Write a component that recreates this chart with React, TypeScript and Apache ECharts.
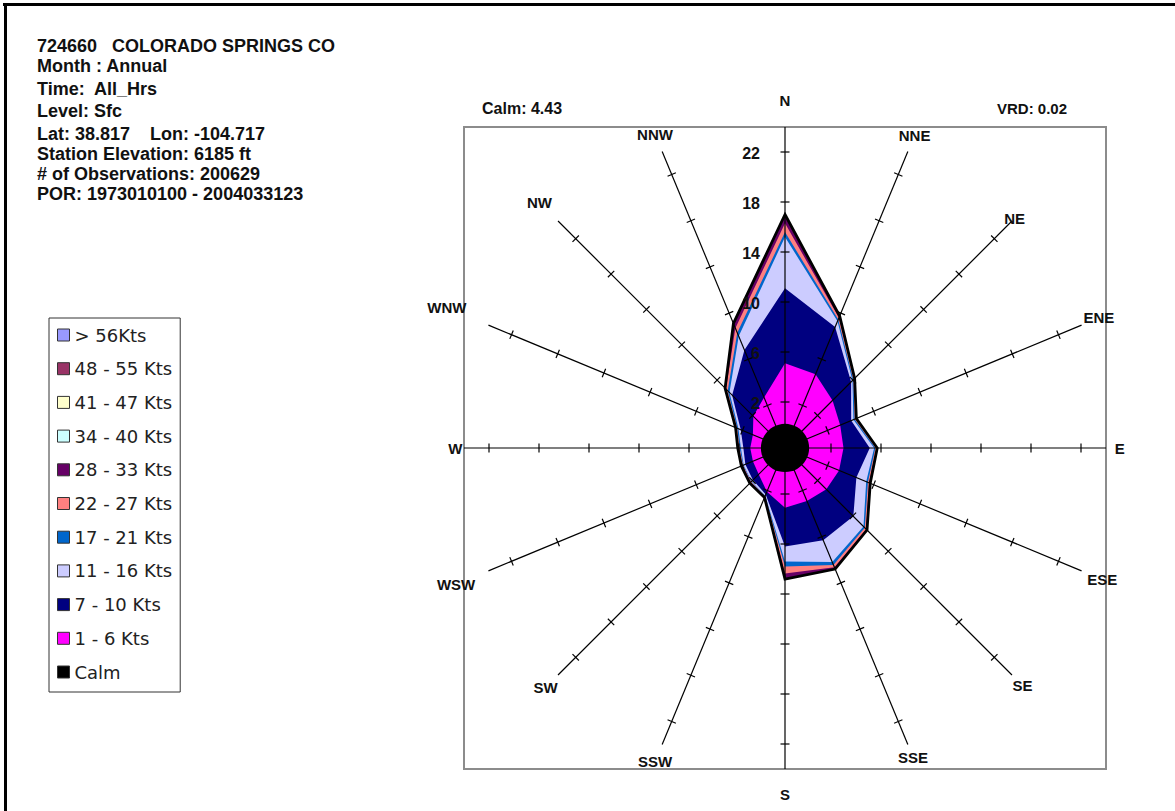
import React, { useEffect, useRef } from 'react';
import * as echarts from 'echarts';

// ---------- data ----------
const DIRECTIONS = ['N', 'NNE', 'NE', 'ENE', 'E', 'ESE', 'SE', 'SSE', 'S', 'SSW', 'SW', 'WSW', 'W', 'WNW', 'NW', 'NNW'];
const DIRECTION_ANGLES = [0, 22.5, 45, 67.5, 90, 112.5, 135, 157.5, 180, 202.5, 225, 247.5, 270, 292.5, 315, 337.5];
const RING_TICKS = [2, 6, 10, 14, 18, 22];
const RADIUS_MAX = 24;

const SPEED_CLASSES = ['1 - 6 Kts', '7 - 10 Kts', '11 - 16 Kts', '17 - 21 Kts', '22 - 27 Kts', '28 - 33 Kts', '34 - 40 Kts', '41 - 47 Kts', '48 - 55 Kts', '> 56Kts'];

// percent frequency per direction (N .. NNW) for each speed class
const PCT_1_6 = [5.1, 4.7, 3.7, 3.1, 3.0, 3.0, 3.0, 2.9, 3.1, 2.1, 1.3, 1.1, 1.1, 1.1, 1.9, 2.7];
const PCT_7_10 = [6.0, 4.1, 2.1, 0.95, 2.1, 1.5, 3.05, 3.4, 3.1, 0.25, 0.65, 0.65, 0.55, 1.05, 2.4, 4.1];
const PCT_11_16 = [4.1, 0.5, 0.15, 0.2, 0.35, 0.85, 1.15, 1.9, 1.2, 0.1, 0.15, 0.15, 0.2, 0.2, 0.3, 1.2];
const PCT_17_21 = [0.4, 0.15, 0.1, 0.1, 0.1, 0.15, 0.15, 0.25, 0.4, 0.05, 0.05, 0.05, 0.1, 0.1, 0.2, 0.3];
const PCT_22_27 = [0.7, 0.15, 0.1, 0.1, 0.1, 0.1, 0.15, 0.2, 0.55, 0.05, 0.05, 0.05, 0.05, 0.1, 0.2, 0.4];
const PCT_28_33 = [0.7, 0.15, 0.05, 0.05, 0.05, 0.1, 0.1, 0.15, 0.45, 0.05, 0.1, 0.1, 0.1, 0.05, 0.1, 0.4];
const PCT_34_40 = [0, 0, 0, 0, 0, 0, 0, 0, 0, 0, 0, 0, 0, 0, 0, 0];
const PCT_41_47 = [0, 0, 0, 0, 0, 0, 0, 0, 0, 0, 0, 0, 0, 0, 0, 0];
const PCT_48_55 = [0, 0, 0, 0, 0, 0, 0, 0, 0, 0, 0, 0, 0, 0, 0, 0];
const PCT_56_UP = [0, 0, 0, 0, 0, 0, 0, 0, 0, 0, 0, 0, 0, 0, 0, 0];

const CALM_PCT = 4.43;
const VRD = 0.02;

const STATION_LINES = [
  '724660   COLORADO SPRINGS CO',
  'Month : Annual',
  'Time:  All_Hrs',
  'Level: Sfc',
  'Lat: 38.817    Lon: -104.717',
  'Station Elevation: 6185 ft',
  '# of Observations: 200629',
  'POR: 1973010100 - 2004033123',
];

// ---------- styles ----------
const CLASS_COLORS = ['#ff00ff', '#000080', '#ccccff', '#0066cc', '#ff8080', '#660066', '#ccffff', '#ffffcc', '#993366', '#9999ff'];
const STATION_LINE_Y = [46, 66, 89, 111, 134, 154, 174, 194];
const LABEL_RADII = [26.1, 25.4, 24.3, 25.5, 25.1, 25.8, 25.2, 25.1, 26.0, 25.5, 25.4, 26.8, 24.7, 27.6, 26.1, 25.5];

const CLASS_VALUES = [PCT_1_6, PCT_7_10, PCT_11_16, PCT_17_21, PCT_22_27, PCT_28_33, PCT_34_40, PCT_41_47, PCT_48_55, PCT_56_UP];

function cumulativeLayers(): number[][] {
  let acc = DIRECTIONS.map(() => 0);
  return CLASS_VALUES.map((arr) => {
    acc = acc.map((v, i) => v + arr[i]);
    return acc.slice();
  });
}

export default function App() {
  const ref = useRef<HTMLDivElement>(null);

  useEffect(() => {
    document.body.style.margin = '0';
    if (!ref.current) return;
    const chart = echarts.init(ref.current, null, { renderer: 'svg' });
    const cum = cumulativeLayers();
    const total = cum[cum.length - 1];

    const layerSeries = SPEED_CLASSES.map((name, k) => ({
      type: 'custom',
      name,
      coordinateSystem: 'polar',
      z: 20 - k,
      clip: false,
      silent: true,
      itemStyle: { color: CLASS_COLORS[k] },
      data: [[0, 0]],
      renderItem: (params: any, api: any) => {
        const pts = DIRECTION_ANGLES.map((a, i) => api.coord([cum[k][i], a]));
        return {
          type: 'polygon',
          shape: { points: pts },
          style: { fill: CLASS_COLORS[k], stroke: null },
        };
      },
    }));

    const outlineSeries = {
      type: 'custom',
      name: 'outline',
      coordinateSystem: 'polar',
      z: 21,
      clip: false,
      silent: true,
      data: [[0, 0]],
      renderItem: (params: any, api: any) => {
        const pts = DIRECTION_ANGLES.map((a, i) => api.coord([total[i], a]));
        return {
          type: 'polygon',
          shape: { points: pts },
          style: { fill: null, stroke: '#000', lineWidth: 2.8, lineJoin: 'miter' },
        };
      },
    };

    const axesSeries = {
      type: 'custom',
      name: 'axes',
      coordinateSystem: 'polar',
      z: 22,
      clip: false,
      silent: true,
      data: [[0, 0]],
      renderItem: (params: any, api: any) => {
        const cs = params.coordSys;
        const cx = cs.cx, cy = cs.cy;
        const children: any[] = [];
        DIRECTION_ANGLES.forEach((a, i) => {
          const pEnd = api.coord([RADIUS_MAX, a]);
          const p0 = api.coord([0, a]);
          children.push({
            type: 'line',
            shape: { x1: cx, y1: cy, x2: pEnd[0], y2: pEnd[1] },
            style: { stroke: '#000', lineWidth: 1.2 },
          });
          const dx = pEnd[0] - cx, dy = pEnd[1] - cy;
          const len = Math.sqrt(dx * dx + dy * dy);
          const ux = dx / len, uy = dy / len;
          RING_TICKS.forEach((t) => {
            const p = api.coord([t, a]);
            children.push({
              type: 'line',
              shape: { x1: p[0] - uy * 4.5, y1: p[1] + ux * 4.5, x2: p[0] + uy * 4.5, y2: p[1] - ux * 4.5 },
              style: { stroke: '#000', lineWidth: 1.2 },
            });
          });
          const f = LABEL_RADII[i] / RADIUS_MAX;
          children.push({
            type: 'text',
            x: p0[0] + (pEnd[0] - p0[0]) * f,
            y: p0[1] + (pEnd[1] - p0[1]) * f,
            style: {
              text: DIRECTIONS[i],
              fill: '#111',
              fontSize: 15,
              fontWeight: 'bold',
              fontFamily: 'Liberation Sans',
              align: 'center',
              verticalAlign: 'middle',
            },
          });
        });
        return { type: 'group', children };
      },
    };

    const calmSeries = {
      type: 'custom',
      name: 'Calm',
      coordinateSystem: 'polar',
      z: 23,
      clip: false,
      silent: true,
      itemStyle: { color: '#000' },
      data: [[0, 0]],
      renderItem: (params: any, api: any) => {
        const cs = params.coordSys;
        const p = api.coord([0.25, 0]);
        const r = Math.sqrt((p[0] - cs.cx) ** 2 + (p[1] - cs.cy) ** 2);
        return {
          type: 'circle',
          shape: { cx: cs.cx, cy: cs.cy, r },
          style: { fill: '#000' },
        };
      },
    };

    const ringLabelSeries = {
      type: 'custom',
      name: 'ringLabels',
      coordinateSystem: 'polar',
      z: 24,
      clip: false,
      silent: true,
      data: [[0, 0]],
      renderItem: (params: any, api: any) => {
        const children = RING_TICKS.map((t) => {
          const p = api.coord([t, 0]);
          return {
            type: 'text',
            x: p[0] - 25,
            y: p[1] + 1,
            style: {
              text: String(t),
              fill: '#111',
              fontSize: 16,
              fontWeight: 'bold',
              fontFamily: 'Liberation Sans',
              align: 'right',
              verticalAlign: 'middle',
            },
          };
        });
        return { type: 'group', children };
      },
    };

    const legendNames = [...SPEED_CLASSES].reverse().concat(['Calm']);

    const graphics: any[] = [
      { type: 'rect', shape: { x: 3, y: 3, width: 1180, height: 3 }, style: { fill: '#000' } },
      { type: 'rect', shape: { x: 4, y: 3, width: 3, height: 820 }, style: { fill: '#000' } },
      {
        type: 'rect',
        shape: { x: 464, y: 127, width: 642, height: 642 },
        style: { fill: null, stroke: '#8c8c8c', lineWidth: 2 },
        z: 1,
      },
      {
        type: 'text', x: 482, y: 108,
        style: { text: 'Calm: ' + CALM_PCT.toFixed(2), fill: '#111', fontSize: 16, fontWeight: 'bold', fontFamily: 'Liberation Sans', align: 'left', verticalAlign: 'middle' },
      },
      {
        type: 'text', x: 1067, y: 108,
        style: { text: 'VRD: ' + VRD.toFixed(2), fill: '#111', fontSize: 15, fontWeight: 'bold', fontFamily: 'Liberation Sans', align: 'right', verticalAlign: 'middle' },
      },
      ...STATION_LINES.map((t, i) => ({
        type: 'text', x: 37, y: STATION_LINE_Y[i],
        style: { text: t, fill: '#111', fontSize: 18, lineHeight: 18, fontWeight: 'bold', fontFamily: 'Liberation Sans', align: 'left', verticalAlign: 'middle' },
      })),
    ];

    chart.setOption({
      animation: false,
      backgroundColor: '#fff',
      polar: { center: [785, 448], radius: [21, 321] },
      angleAxis: { type: 'value', min: 0, max: 360, startAngle: 90, clockwise: true, show: false },
      radiusAxis: { type: 'value', min: 0, max: RADIUS_MAX, show: false },
      legend: {
        orient: 'vertical',
        left: 49,
        top: 318,
        data: legendNames,
        icon: 'rect',
        itemWidth: 12,
        itemHeight: 12,
        itemGap: 13.7,
        padding: [7, 8, 10, 8],
        borderColor: '#333',
        borderWidth: 1,
        selectedMode: false,
        itemStyle: { borderColor: '#333', borderWidth: 1 },
        textStyle: { fontFamily: 'DejaVu Sans', fontSize: 18, color: '#222', lineHeight: 20 },
      },
      graphic: graphics,
      series: [...layerSeries, outlineSeries, axesSeries, calmSeries, ringLabelSeries],
    });

    return () => chart.dispose();
  }, []);

  return <div ref={ref} style={{ width: 1175, height: 811, position: 'absolute', left: 0, top: 0 }} />;
}
